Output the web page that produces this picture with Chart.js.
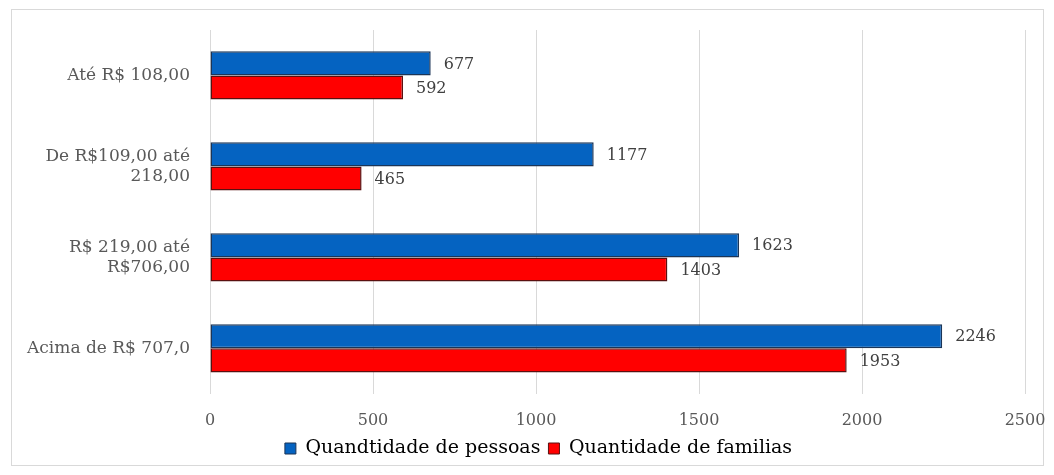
<!DOCTYPE html>
<html>
<head>
<meta charset="utf-8">
<script src="https://cdn.jsdelivr.net/npm/chart.js@4.4.1/dist/chart.umd.min.js"></script>
<style>
  html, body { margin: 0; padding: 0; background: #fff; }
  #wrap { position: absolute; left: 11px; top: 9px; width: 1031px; height: 455px; border: 1px solid #d9d9d9; }
  #box { position: absolute; left: 0; top: 0; width: 1054px; height: 475px; }
</style>
</head>
<body>
<div id="wrap"></div>
<div id="box"><canvas id="incomeChart"></canvas></div>
<script>
const categories = [
  'Até R$ 108,00',
  ['De R$109,00 até', '218,00'],
  ['R$ 219,00 até', 'R$706,00'],
  'Acima de R$ 707,0'
];
const pessoas = [677, 1177, 1623, 2246];
const familias = [592, 465, 1403, 1953];
const xTicks = [0, 500, 1000, 1500, 2000, 2500];

const serif = '"DejaVu Serif", serif';

// draws the value just past the end of each bar
const barValues = {
  id: 'barValues',
  afterDatasetsDraw(chart) {
    const ctx = chart.ctx;
    ctx.save();
    ctx.font = '16px ' + serif;
    ctx.fillStyle = '#404040';
    ctx.textBaseline = 'middle';
    ctx.textAlign = 'left';
    chart.data.datasets.forEach((ds, i) => {
      chart.getDatasetMeta(i).data.forEach((bar, j) => {
        ctx.fillText(ds.data[j], bar.x + 13, bar.y + 1);
      });
    });
    ctx.restore();
  }
};

// legend sits a bit to the right and closer to the axis in the original
const nudgeLegend = {
  id: 'nudgeLegend',
  afterLayout(chart) {
    const lg = chart.legend;
    lg.left += 21;
    lg.right += 21;
    lg.top -= 5;
    lg.bottom -= 5;
  }
};

const ctx = document.getElementById('incomeChart').getContext('2d');

const incomeChart = new Chart(ctx, {
  type: 'bar',
  data: {
    labels: categories,
    datasets: [{
      label: 'Quandtidade de pessoas',
      data: pessoas,
      backgroundColor: '#0563c1',
      borderColor: '#1b3557',
      borderWidth: 1.5,
      borderSkipped: false
    }, {
      label: 'Quantidade de familias',
      data: familias,
      backgroundColor: '#ff0000',
      borderColor: '#5a1010',
      borderWidth: 1.5,
      borderSkipped: false
    }]
  },
  options: {
    indexAxis: 'y',
    responsive: true,
    maintainAspectRatio: false,
    animation: false,
    categoryPercentage: 0.53,
    barPercentage: 1,
    layout: {
      padding: { top: 30, right: 29, left: 10, bottom: 2 }
    },
    plugins: {
      legend: {
        display: true,
        position: 'bottom',
        labels: {
          boxWidth: 11,
          boxHeight: 11,
          padding: 8,
          color: '#595959',
          font: { size: 19, family: serif },
          generateLabels: chart => chart.data.datasets.map((ds, i) => ({
            text: ds.label,
            fillStyle: ds.backgroundColor,
            strokeStyle: ds.borderColor,
            lineWidth: 1,
            datasetIndex: i
          }))
        }
      },
      tooltip: { enabled: false }
    },
    scales: {
      x: {
        min: 0,
        max: 2500,
        afterBuildTicks: axis => { axis.ticks = xTicks.map(v => ({ value: v })); },
        afterFit: axis => {
          axis.paddingLeft = 0;
          axis.paddingRight = 0;
          axis.height -= 11;
        },
        grid: { color: '#d9d9d9', drawTicks: false },
        border: { display: false },
        ticks: {
          padding: 17,
          color: '#595959',
          callback: v => String(v),
          font: { size: 16, family: serif }
        }
      },
      y: {
        grid: { display: false },
        border: { display: false },
        afterFit: axis => { axis.width = 200; },
        ticks: {
          padding: 12,
          color: '#595959',
          font: { size: 17, family: serif }
        }
      }
    }
  },
  plugins: [barValues, nudgeLegend]
});
</script>
</body>
</html>
